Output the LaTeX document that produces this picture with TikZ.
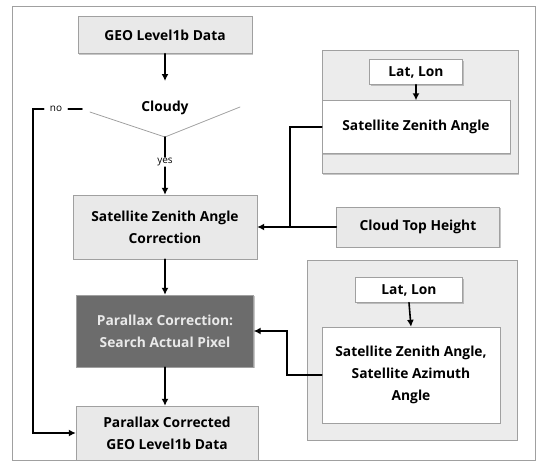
\documentclass[tikz,border=0pt]{standalone}
\usepackage{fontspec}
\setmainfont{Open Sans}
\usetikzlibrary{arrows.meta,shadows}
\definecolor{stipple}{RGB}{233, 233, 233}
\definecolor{darkbox}{RGB}{108, 108, 108}
\definecolor{framegray}{RGB}{160, 160, 160}
\tikzset{
  flow/.style={line width=1.6pt, -{Latex[length=7pt, width=7pt]}},
  wire/.style={line width=1.6pt},
  smalltext/.style={font=\mdseries\fontsize{10}{11}\selectfont},
  procbox/.style={fill=stipple, draw=framegray, line width=0.4pt, align=center,
    inner sep=2pt, drop shadow={shadow xshift=1.2pt, shadow yshift=-1.2pt, opacity=0.45}},
  whitebox/.style={procbox, fill=white},
  groupbox/.style={procbox, fill=stipple!85}
}
\begin{document}
\begin{tikzpicture}[x=1pt, y=-1pt, line cap=round,
  font=\bfseries\fontsize{13.8}{22}\selectfont]
 \useasboundingbox (0, 0) rectangle (537, 467);
 \draw[framegray, line width=0.6pt] (12, 6) rectangle (535, 460);

 % left column
 \node[procbox, minimum width=174, minimum height=37] (geo) at (165, 35) {GEO Level1b Data};
 \node (cloudy) at (165, 108) {Cloudy};
 \coordinate (cloudin) at (165, 81);
 \coordinate (vleft) at (90, 112);
 \coordinate (vright) at (240, 107);
 \coordinate (vtip) at (165, 137);
 \draw[framegray, line width=0.8pt] (vleft) -- (vtip) -- (vright);
 \node[smalltext, inner sep=1pt] (yes) at (165, 162) {yes};
 \node[smalltext, inner sep=6pt] (no) at (56, 109) {no};
 \coordinate (nostub) at (82, 109);
 \coordinate (nocorner) at (33, 109);
 \node[procbox, minimum width=184, minimum height=64] (corr) at (165, 227)
   {Satellite Zenith Angle\\Correction};
 \node[procbox, fill=darkbox, text=stipple, minimum width=177, minimum height=72] (parallax)
   at (165, 331) {Parallax Correction:\\Search Actual Pixel};
 \node[procbox, minimum width=182, minimum height=54] (final) at (167, 433)
   {Parallax Corrected\\GEO Level1b Data};

 % right column, upper group
 \node[groupbox, minimum width=196, minimum height=123] (grpA) at (420, 112) {};
 \node[whitebox, minimum width=93, minimum height=25] (latA) at (416, 72) {Lat, Lon};
 \node[whitebox, minimum width=188, minimum height=53] (szaA) at (416, 127) {Satellite Zenith Angle};
 \node[procbox, minimum width=163, minimum height=40] (cth) at (418, 227) {Cloud Top Height};
 \coordinate (joinA) at (290, 227);

 % right column, lower group
 \node[groupbox, minimum width=210, minimum height=180] (grpB) at (412, 350) {};
 \node[whitebox, minimum width=107, minimum height=25] (latB) at (409, 290) {Lat, Lon};
 \node[whitebox, minimum width=178, minimum height=96] (szaB) at (411, 375)
   {Satellite Zenith Angle,\\Satellite Azimuth\\Angle};
 \coordinate (joinB) at (287, 375);

 % connectors
 \draw[flow] (geo.south) -- (cloudin);
 \draw[wire] (vtip) -- (yes.north);
 \draw[flow] (yes.south) -- (corr.north);
 \draw[wire] (nostub) -- (no.east);
 \draw[flow] (no.west) -- (nocorner) |- (final.west);
 \draw[flow] (corr.south) -- (parallax.north);
 \draw[flow] (parallax.south) -- (parallax.south |- final.north);
 \draw[flow] (latA.south) -- (szaA.north);
 \draw[wire] (szaA.west) -| (joinA);
 \draw[flow] (cth.west) -- (corr.east);
 \draw[flow] (latB.south) -- (szaB.north);
 \draw[flow] (szaB.west) -- (joinB) |- (parallax.east);
\end{tikzpicture}
\end{document}
